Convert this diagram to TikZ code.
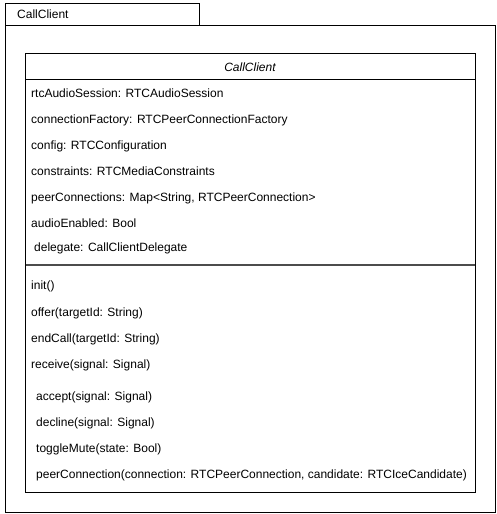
\documentclass[tikz,border=0pt]{standalone}
\usepackage{fontspec}
\setmainfont{Liberation Sans}
\begin{document}
\begin{tikzpicture}[x=1pt,y=-1pt,
  boxline/.style={draw=black,line width=1pt},
  member/.style={anchor=base west,inner sep=0pt,font=\fontsize{12}{14}\selectfont}]
\useasboundingbox (0,0) rectangle (496,514);
\fill[white] (0,0) rectangle (496,514);
% package tab and body
\draw[boxline] (5,3.5) rectangle (199,25.5) node[pos=0,coordinate] (tabA) {};
\draw[boxline] (5,25.5) rectangle (495,512.5);
\node[member] (pkg) at (17,18.5) {CallClient};
% class
\draw[boxline] (25.5,53.5) rectangle (475,492.5);
\draw[boxline] (25.5,79.5) -- (475,79.5);
\draw[draw=black!70,line width=1.2pt] (25.5,265) -- (475,265);
\node[anchor=base,inner sep=0pt,font=\fontsize{12}{14}\selectfont\itshape] (cname) at (250,71) {CallClient};
\node[member] (a1) at (31,97) {rtcAudioSession: RTCAudioSession};
\node[member] (a2) at (31,123) {connectionFactory: RTCPeerConnectionFactory};
\node[member] (a3) at (31,149) {config: RTCConfiguration};
\node[member] (a4) at (31,175) {constraints: RTCMediaConstraints};
\node[member] (a5) at (31,201) {peerConnections: Map<String, RTCPeerConnection>};
\node[member] (a6) at (31,227) {audioEnabled: Bool};
\node[member] (a7) at (34,251) {delegate: CallClientDelegate};
\node[member] (m1) at (31,289) {init()};
\node[member] (m2) at (31,316) {offer(targetId: String)};
\node[member] (m3) at (31,342) {endCall(targetId: String)};
\node[member] (m4) at (31,368) {receive(signal: Signal)};
\node[member] (m5) at (36,400) {accept(signal: Signal)};
\node[member] (m6) at (36,426) {decline(signal: Signal)};
\node[member] (m7) at (36,452) {toggleMute(state: Bool)};
\node[member] (m8) at (36,478) {peerConnection(connection: RTCPeerConnection, candidate: RTCIceCandidate)};
\end{tikzpicture}
\end{document}
